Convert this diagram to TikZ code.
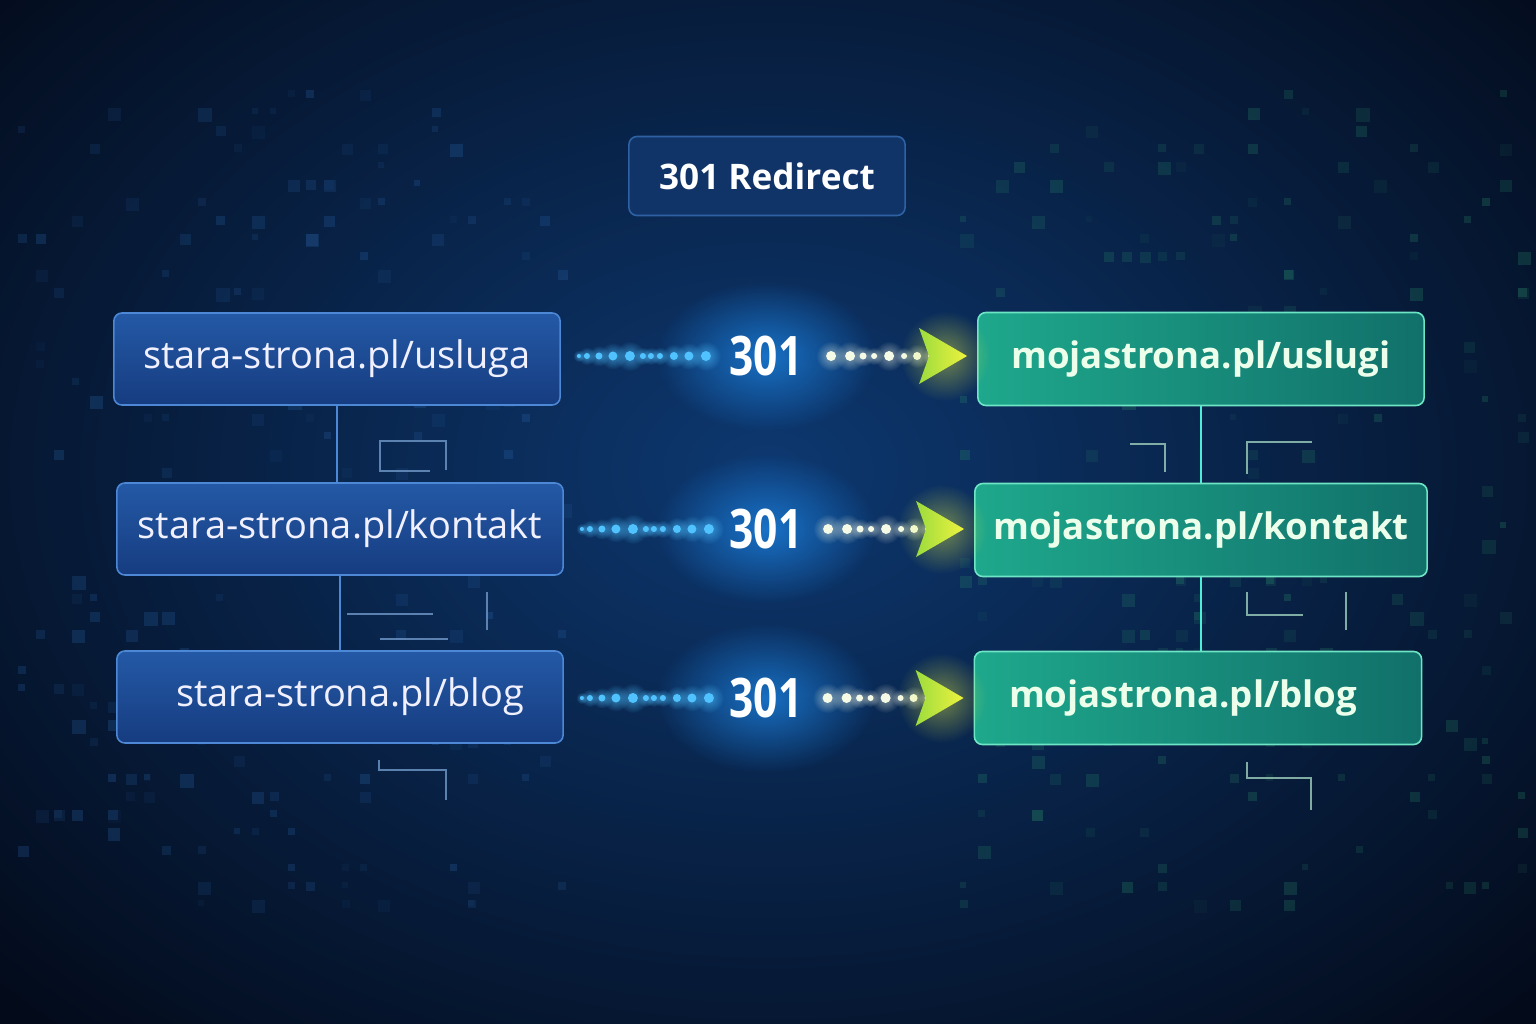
\documentclass[tikz,border=0pt]{standalone}
\usepackage{fontspec}
\setmainfont{Open Sans}
\newfontfamily\numfont[FakeStretch=0.78]{Open Sans}
\usetikzlibrary{calc,fadings}

\definecolor{bgdark}{HTML}{030B1B}
\definecolor{bgmid}{HTML}{0D3870}
\definecolor{oldtop}{HTML}{2459A6}
\definecolor{oldbot}{HTML}{163C80}
\definecolor{oldrim}{HTML}{4C88D6}
\definecolor{newleft}{HTML}{1EA88C}
\definecolor{newright}{HTML}{11706A}
\definecolor{newrim}{HTML}{6EE6C6}
\definecolor{titlefill}{HTML}{113468}
\definecolor{titlerim}{HTML}{2E62A4}
\definecolor{bluedot}{HTML}{4FC2FF}
\definecolor{whitedot}{HTML}{F4FAE6}
\definecolor{tipyellow}{HTML}{EEF23E}
\definecolor{tipgreen}{HTML}{9CDC3E}
\definecolor{glowblue}{HTML}{1E8CF0}
\definecolor{pixblue}{HTML}{2A64A8}
\definecolor{pixgreen}{HTML}{2A8A6A}

\tikzfading[name=softglow, inner color=transparent!0, outer color=transparent!100]

\tikzset{
  oldbox/.style={draw=oldrim, line width=0.45pt, rounded corners=2.3pt,
    top color=oldtop, bottom color=oldbot, text=white!94!blue,
    minimum width=4.46cm, minimum height=0.92cm,
    font=\fontsize{10.8}{12}\selectfont},
  newbox/.style={draw=newrim, line width=0.45pt, rounded corners=2.3pt,
    left color=newleft, right color=newright, text=white!92!green,
    minimum width=4.46cm, minimum height=0.93cm,
    font=\bfseries\fontsize{10.4}{12}\selectfont},
  titlebox/.style={draw=titlerim, line width=0.45pt, rounded corners=2.3pt,
    fill=titlefill, text=white, minimum width=2.76cm, minimum height=0.79cm,
    font=\bfseries\fontsize{10}{12}\selectfont},
  codelabel/.style={text=white, inner sep=2pt,
    font=\numfont\bfseries\fontsize{15.5}{16}\selectfont},
  linkline/.style={line width=0.5pt},
  decoline/.style={line width=0.4pt, opacity=0.85},
  leftdot/.style={fill=bluedot},
  rightdot/.style={fill=whitedot},
  glow/.style={path fading=softglow}
}

\begin{document}
\begin{tikzpicture}[x=0.01cm, y=-0.01cm]
    %%%%% BACKGROUND %%%%%
    \useasboundingbox (0,0) rectangle (1536,1024);
    \fill[bgdark] (0,0) rectangle (1536,1024);
    \begin{scope}
        \clip (0,0) rectangle (1536,1024);
        \shade[inner color=bgmid, outer color=bgdark] (768,470) ellipse (1050 and 760);
    \end{scope}

    \pgfmathsetseed{7}
    \foreach \i in {1,...,200}{
        \pgfmathsetmacro{\px}{18*int(1+rnd*31)}
        \pgfmathsetmacro{\py}{18*int(5+rnd*46)}
        \pgfmathsetmacro{\ps}{6+rnd*8}
        \pgfmathsetmacro{\po}{0.06+rnd*0.22}
        \fill[pixblue, opacity=\po] (\px,\py) rectangle ++(\ps,\ps);
    }
    \foreach \i in {1,...,200}{
        \pgfmathsetmacro{\px}{960+18*int(rnd*32)}
        \pgfmathsetmacro{\py}{18*int(5+rnd*46)}
        \pgfmathsetmacro{\ps}{6+rnd*8}
        \pgfmathsetmacro{\po}{0.06+rnd*0.22}
        \fill[pixgreen, opacity=\po] (\px,\py) rectangle ++(\ps,\ps);
    }

    %%%%% DECORATION LINES %%%%%
    \draw[decoline, color=pixblue!70!white] (430,471) -- (380,471) -- (380,441) -- (446,441) -- (446,470);
    \draw[decoline, color=pixblue!70!white] (347,614) -- (433,614);
    \draw[decoline, color=pixblue!70!white] (380,639) -- (448,639);
    \draw[decoline, color=pixblue!70!white] (487,592) -- (487,630);
    \draw[decoline, color=pixblue!70!white] (379,760) -- (379,770) -- (446,770) -- (446,800);

    \draw[decoline, color=pixgreen!50!white] (1130,444) -- (1165,444) -- (1165,472);
    \draw[decoline, color=pixgreen!50!white] (1247,474) -- (1247,442) -- (1312,442);
    \draw[decoline, color=pixgreen!50!white] (1247,592) -- (1247,615) -- (1303,615);
    \draw[decoline, color=pixgreen!50!white] (1346,592) -- (1346,630);
    \draw[decoline, color=pixgreen!50!white] (1247,762) -- (1247,778) -- (1311,778) -- (1311,810);

    %%%%% TITLE %%%%%
    \node[titlebox] (title) at (767,176) {301 Redirect};

    %%%%% GLOWS %%%%%
    \foreach \y in {356,529,698}{
        \fill[glowblue, glow, opacity=0.7] (766,\y) ellipse (110 and 75);
    }

    %%%%% BOXES %%%%%
    \node[oldbox] (s1) at (337,359) {stara-strona.pl/usluga};
    \node[oldbox] (s2) at (340,529) {stara-strona.pl/kontakt};
    \node[oldbox] (s3) at (340,697) {\hspace{0.2cm}stara-strona.pl/blog};

    \node[newbox] (t1) at (1201,359) {mojastrona.pl/uslugi};
    \node[newbox, minimum width=4.52cm] (t2) at (1201,530) {mojastrona.pl/kontakt};
    \node[newbox, minimum width=4.47cm] (t3) at (1198,698) {mojastrona.pl/blog\kern0.3cm};

    \node[codelabel] (n1) at (766,356) {301};
    \node[codelabel] (n2) at (766,529) {301};
    \node[codelabel] (n3) at (766,698) {301};

    %%%%% CONNECTORS %%%%%
    \draw[linkline, color=oldrim] (s1.south) -- (s1.south |- s2.north);
    \draw[linkline, color=oldrim] (s2.south) -- (s2.south |- s3.north);
    \draw[linkline, color=newrim!70!cyan] (t1.south) -- (t1.south |- t2.north);
    \draw[linkline, color=newrim!70!cyan] (t2.south) -- (t2.south |- t3.north);

    \foreach \s/\n/\t in {s1/n1/t1, s2/n2/t2, s3/n3/t3}{
        % dots out of the old address
        \foreach \o/\r in {18/2, 26/3, 38/3.5, 52/4.5, 69/5, 82/3, 90/3, 99/3, 113/4, 128/4.5, 145/5}{
            \fill[bluedot, glow, opacity=0.6] ($(\s.east |- \n.center)+(\o,0)$) circle (\r*3);
            \fill[leftdot] ($(\s.east |- \n.center)+(\o,0)$) circle (\r);
        }
        % dots into the new address
        \foreach \o/\r in {146/5, 127/5, 114/3.5, 103/3, 88/5, 73/3, 60/4, 46/3}{
            \fill[whitedot, glow, opacity=0.5] ($(\t.west |- \n.center)+(-\o,0)$) circle (\r*3);
            \fill[rightdot] ($(\t.west |- \n.center)+(-\o,0)$) circle (\r);
        }
        \fill[tipyellow, glow, opacity=0.45] ($(\t.west |- \n.center)+(-32,0)$) circle (45);
        \shade[left color=tipgreen, right color=tipyellow]
            ($(\t.west |- \n.center)+(-10,0)$) -- ++(-48,-28) -- ++(10,28) -- ++(-10,28) -- cycle;
    }
\end{tikzpicture}
\end{document}
